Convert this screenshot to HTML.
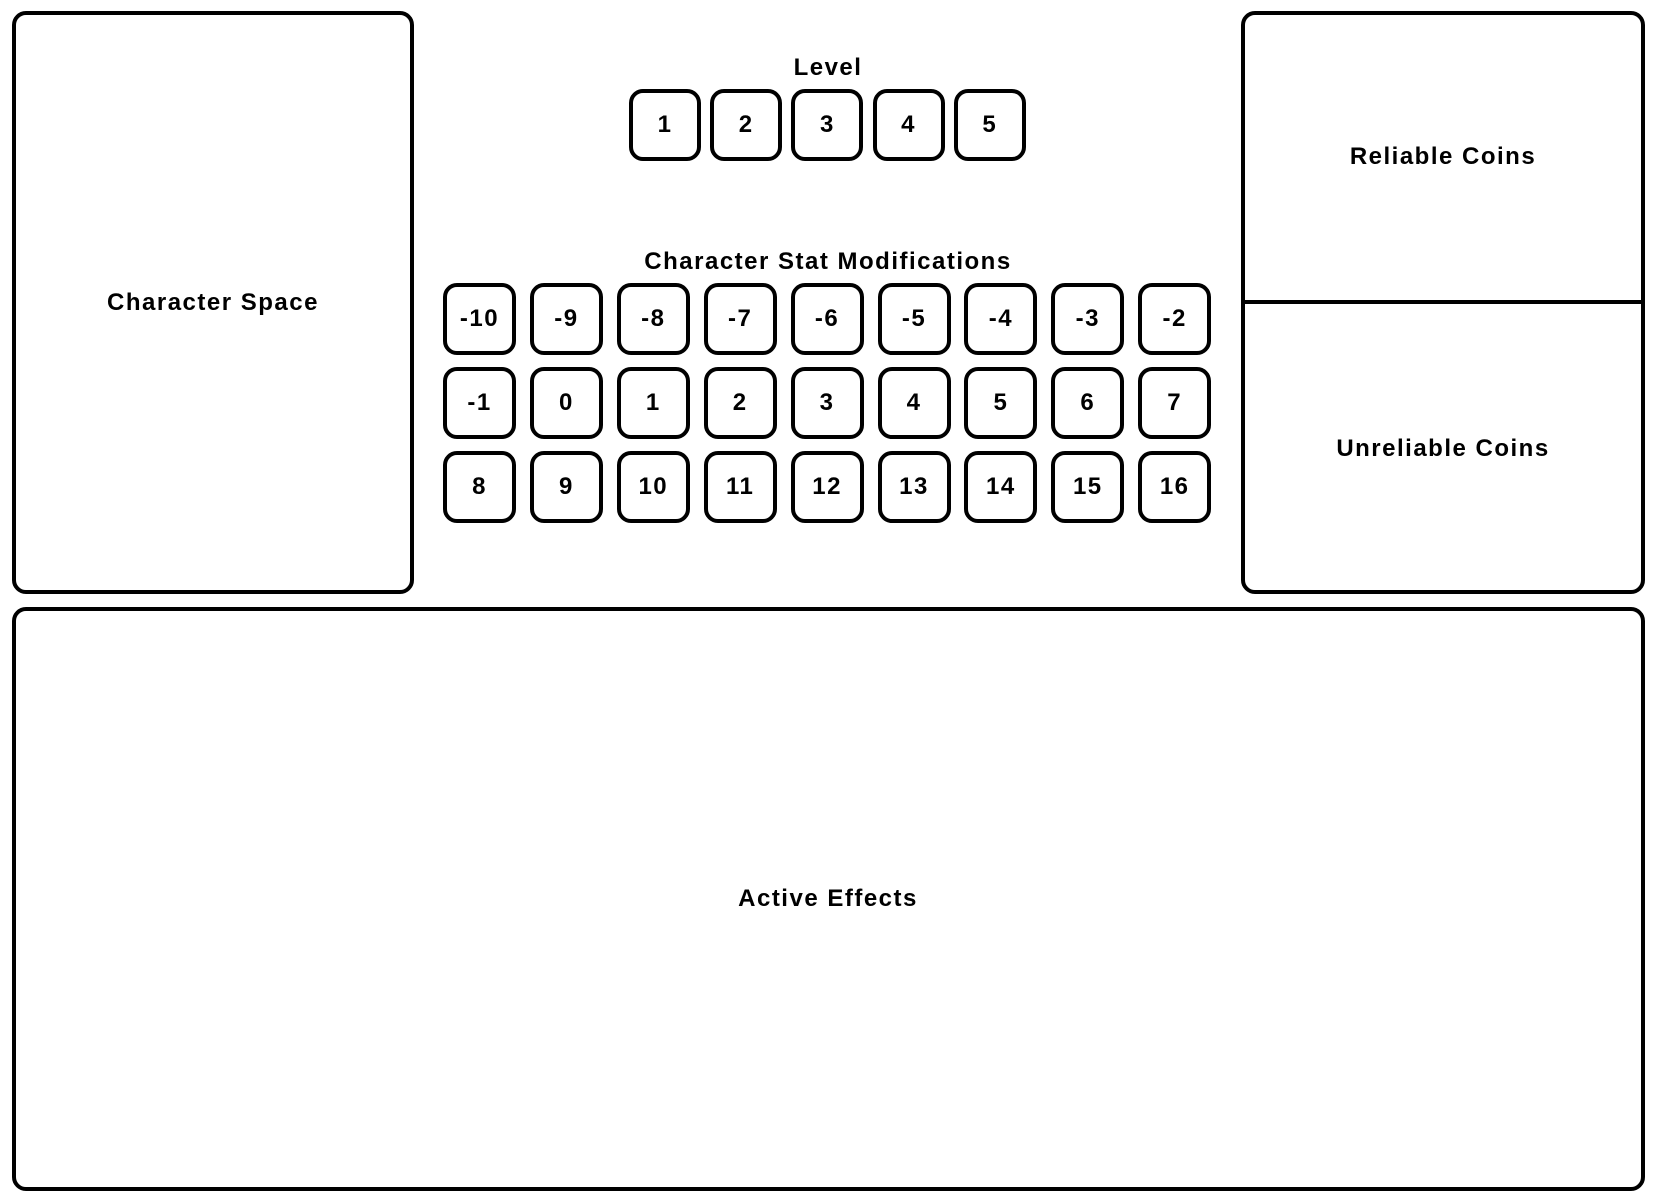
<!DOCTYPE html>
<html><head><style>
body{margin:0;width:1655px;height:1200px;background:#fff;position:relative;overflow:hidden;font-family:"Liberation Sans",sans-serif;font-weight:bold;}
.b{position:absolute;border:4px solid #000;box-sizing:border-box;border-radius:14px;}
.t{position:absolute;transform:translate(-50%,-50%);font-size:24px;letter-spacing:1.5px;white-space:nowrap;}
.s{position:absolute;border:4px solid #000;box-sizing:border-box;border-radius:14px;display:flex;align-items:center;justify-content:center;font-size:24px;letter-spacing:1.5px;}
</style></head><body>
<div class="b" style="left:12px;top:11px;width:402px;height:583px"></div>
<div class="b" style="left:1241px;top:11px;width:404px;height:583px"></div>
<div style="position:absolute;left:1241px;top:300px;width:404px;height:4px;background:#000"></div>
<div class="b" style="left:12px;top:607px;width:1633px;height:584px"></div>
<div class="t" style="left:213px;top:303px">Character Space</div>
<div class="t" style="left:1443px;top:157px">Reliable Coins</div>
<div class="t" style="left:1443px;top:449px">Unreliable Coins</div>
<div class="t" style="left:828px;top:899px">Active Effects</div>
<div class="t" style="left:828px;top:68px">Level</div>
<div class="t" style="left:828px;top:262px">Character Stat Modifications</div>
<div id="g"></div>
<script>
var h='';
for(var i=0;i<5;i++)h+='<div class="s" style="left:'+(629+i*81.2)+'px;top:89px;width:72px;height:72px">'+(i+1)+'</div>';
var v=-10;
for(var r=0;r<3;r++)for(var c=0;c<9;c++){h+='<div class="s" style="left:'+(443+c*86.9)+'px;top:'+(283+r*84)+'px;width:73px;height:72px">'+v+'</div>';v++;}
document.getElementById('g').innerHTML=h;
</script>
</body></html>
